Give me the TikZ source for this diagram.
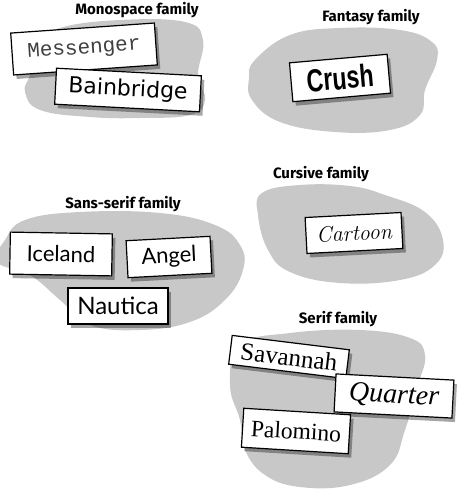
\documentclass[tikz,border=0pt]{standalone}
\usepackage{fontspec}
\newfontfamily\labelfont{Fira Sans}
\newfontfamily\monofont{Liberation Mono}
\newfontfamily\roundfont{DejaVu Sans}
\newfontfamily\heavyfont{Liberation Sans}
\newfontfamily\gillfont{Lato}
\newfontfamily\serifface{Liberation Serif}
\usetikzlibrary{shadows}
\definecolor{blobgray}{RGB}{200,200,201}
\tikzset{
  blob/.style={fill=blobgray, draw=none},
  famlabel/.style={font=\labelfont\bfseries\fontsize{15}{17}\selectfont, inner sep=0pt},
  card/.style={draw=black, line width=1.2pt, fill=white, inner sep=0pt,
    drop shadow={shadow xshift=3pt, shadow yshift=-4pt, fill=black, opacity=0.35}},
}
\begin{document}
\begin{tikzpicture}[x=1pt,y=-1pt]
\useasboundingbox (0,0) rectangle (468,489);
% blobs
\fill[blob] plot[smooth cycle, tension=0.7] coordinates {(60,28) (120,20) (185,22) (203,40) (198,75) (205,100) (190,115) (140,118) (90,117) (40,110) (25,92) (30,75) (40,45)};
\fill[blob] plot[smooth cycle, tension=0.7] coordinates {(255,60) (290,35) (340,28) (400,30) (432,42) (437,60) (425,90) (420,115) (390,130) (335,132) (280,122) (252,100) (249,78)};
\fill[blob] plot[smooth cycle, tension=0.7] coordinates {(5,240) (25,220) (80,212) (160,213) (215,225) (240,245) (243,270) (225,300) (190,322) (140,330) (90,325) (60,300) (30,275) (-3,262)};
\fill[blob] plot[smooth cycle, tension=0.7] coordinates {(262,193) (300,185) (350,186) (385,195) (425,212) (443,240) (435,265) (400,280) (340,283) (290,272) (268,250) (258,215)};
\fill[blob] plot[smooth cycle, tension=0.7] coordinates {(240,345) (290,333) (360,330) (410,338) (425,355) (418,385) (405,430) (390,465) (350,485) (300,487) (265,475) (245,450) (240,420) (230,385)};
% labels
\node[famlabel] (lmono) at (137,10) {Monospace family};
\node[famlabel] (lfant) at (371,17) {Fantasy family};
\node[famlabel] (lsans) at (123,204) {Sans-serif family};
\node[famlabel] (lcurs) at (321,174) {Cursive family};
\node[famlabel] (lserif) at (338,319) {Serif family};
% cards
\node[card, minimum width=144pt, minimum height=42pt, rotate=4] (messenger) at (84,49)
  {\monofont\fontsize{21}{24}\selectfont\color{black!75}Messenger};
\node[card, minimum width=145pt, minimum height=36pt, rotate=-3] (bainbridge) at (128,90)
  {\roundfont\fontsize{22}{24}\selectfont Bainbridge};
\node[card, minimum width=98pt, minimum height=39pt, rotate=5] (crush) at (340,78)
  {\scalebox{0.8}[1.1]{\heavyfont\bfseries\fontsize{29}{30}\selectfont Crush}};
\node[card, minimum width=102pt, minimum height=42pt, rotate=-1] (iceland) at (61,254)
  {\gillfont\fontsize{22}{24}\selectfont Iceland};
\node[card, minimum width=84pt, minimum height=37pt, rotate=3] (angel) at (169,257)
  {\gillfont\fontsize{22}{24}\selectfont Angel};
\node[card, minimum width=100pt, minimum height=36pt] (nautica) at (118,306)
  {\gillfont\fontsize{24}{26}\selectfont Nautica};
\node[card, minimum width=96pt, minimum height=36pt, rotate=3] (cartoon) at (354,233)
  {\itshape\fontsize{22}{24}\selectfont Cartoon};
\node[card, minimum width=118pt, minimum height=29pt, rotate=-7] (savannah) at (289,357)
  {\serifface\fontsize{25}{27}\selectfont Savannah};
\node[card, minimum width=118pt, minimum height=38pt, rotate=-3] (quarter) at (394,396)
  {\serifface\itshape\fontsize{28}{30}\selectfont Quarter};
\node[card, minimum width=107pt, minimum height=39pt, rotate=-3.5] (palomino) at (296,431)
  {\serifface\fontsize{23.5}{26}\selectfont Palomino};
\end{tikzpicture}
\end{document}
